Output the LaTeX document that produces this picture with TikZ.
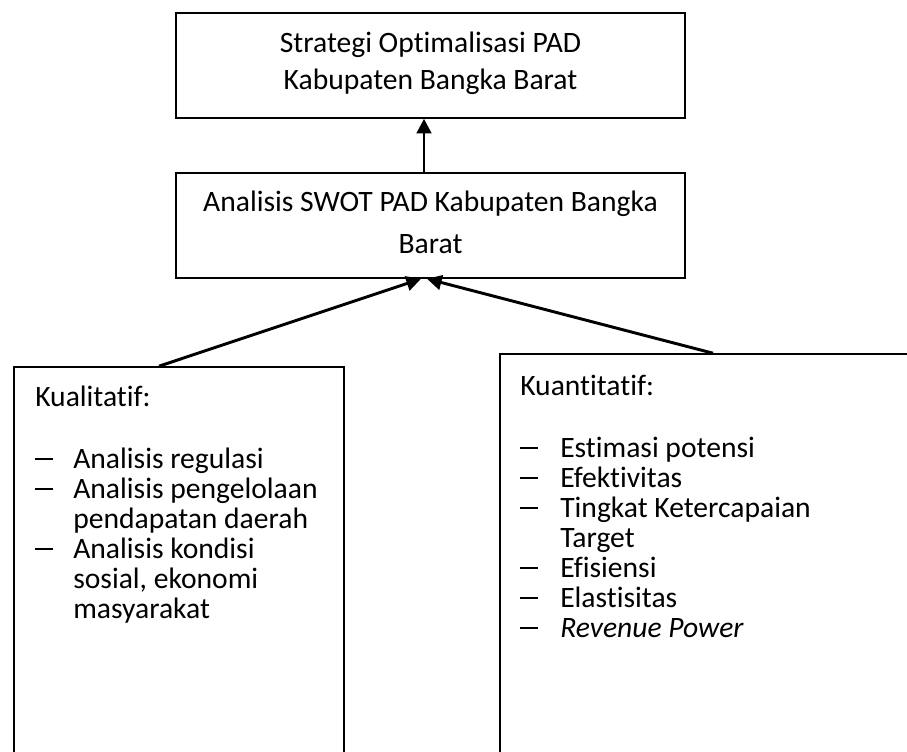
\documentclass[tikz,border=0pt]{standalone}
\usepackage{fontspec}
\setmainfont{Carlito}[Ligatures={NoCommon,NoContextual}]
\usepackage{array}
\usetikzlibrary{arrows.meta}
\newcommand{\dashitem}{\rule[6pt]{13pt}{1.2pt}}
\begin{document}
\begin{tikzpicture}[x=0.75pt,y=-0.75pt,
  box/.style={draw, line width=1.2pt, inner sep=0pt, align=center},
  arr/.style={line width=2.2pt, -{Triangle[length=11pt,width=11pt]}},
  txt/.style={font=\fontsize{22.2pt}{22.5pt}\selectfont, inner sep=0pt, anchor=base west}]
\clip (0,0) rectangle (907,751);
% boxes
\node[box, minimum width=381.75pt, minimum height=78.75pt,
      font=\fontsize{22.2pt}{27.5pt}\selectfont] (top) at (430.5,65.5)
  {Strategi Optimalisasi PAD\\Kabupaten Bangka Barat\rule[-7.5pt]{0pt}{0pt}};
\node[box, minimum width=381.75pt, minimum height=78.75pt,
      font=\fontsize{22.2pt}{31.5pt}\selectfont] (mid) at (430.5,225.5)
  {Analisis SWOT PAD Kabupaten Bangka\\Barat\rule[-4.5pt]{0pt}{0pt}};
\node[box, minimum width=247.5pt, minimum height=300pt] (lbox) at (179,567) {};
\node[box, minimum width=315pt, minimum height=304.5pt] (rbox) at (710,557) {};
% box contents
\node[txt] (ltext) at (35,406) {\begin{tabular}[t]{@{}p{28.5pt}@{}l@{}}
\multicolumn{2}{@{}l@{}}{Kualitatif:}\\[24pt]
\dashitem & Analisis regulasi\\
\dashitem & Analisis pengelolaan\\
 & pendapatan daerah\\
\dashitem & Analisis kondisi\\
 & sosial, ekonomi\\
 & masyarakat
\end{tabular}};
\node[txt] (rtext) at (520,395) {\begin{tabular}[t]{@{}p{30pt}@{}l@{}}
\multicolumn{2}{@{}l@{}}{Kuantitatif:}\\[24pt]
\dashitem & Estimasi potensi\\
\dashitem & Efektivitas\\
\dashitem & Tingkat Ketercapaian\\
 & Target\\
\dashitem & Efisiensi\\
\dashitem & Elastisitas\\
\dashitem & \textit{Revenue Power}
\end{tabular}};
% connectors
\coordinate (tx) at (424,0);
\coordinate (ltip) at (421,0);
\coordinate (rtip) at (427,0);
\coordinate (lx) at (159,0);
\coordinate (rx) at (713,0);
\draw[arr] (mid.north -| tx) -- (top.south -| tx);
\draw[arr] (lbox.north -| lx) -- (mid.south -| ltip);
\draw[arr] (rbox.north -| rx) -- (mid.south -| rtip);
\end{tikzpicture}
\end{document}
